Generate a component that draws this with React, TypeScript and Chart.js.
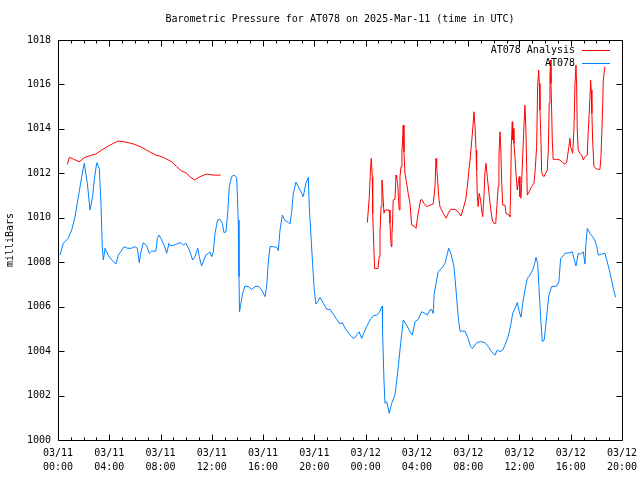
import React, { useEffect, useRef } from "react";
import { Chart, registerables } from "chart.js";

Chart.register(...registerables);

const titleText = "Barometric Pressure for AT078 on 2025-Mar-11 (time in UTC)";
const yAxisTitle = "milliBars";
const xTickDates = ["03/11", "03/11", "03/11", "03/11", "03/11", "03/11", "03/12", "03/12", "03/12", "03/12", "03/12", "03/12"];
const xTickTimes = ["00:00", "04:00", "08:00", "12:00", "16:00", "20:00", "00:00", "04:00", "08:00", "12:00", "16:00", "20:00"];
const legendLabels = ["AT078 Analysis", "AT078"];

// hours since 2025-03-11 00:00 UTC
const blueHours = [
  0.16, 0.41, 0.8, 1.07, 1.33, 1.59, 1.85, 2.05, 2.29, 2.5, 2.7, 2.83, 3.02, 3.22, 3.35, 3.46, 3.54, 3.67, 3.93, 4.2,
  4.52, 4.7, 4.89, 5.15, 5.41, 5.75, 6.0, 6.19, 6.34, 6.45, 6.66, 6.92, 7.12, 7.3, 7.64, 7.75, 7.88, 8.09, 8.3, 8.48,
  8.66, 8.79, 9.05, 9.38, 9.59, 9.78, 9.98, 10.17, 10.3, 10.5, 10.69, 10.9, 11.02, 11.2, 11.34, 11.52, 11.73, 11.86, 11.99, 12.12,
  12.25, 12.45, 12.64, 12.82, 12.95, 13.1, 13.24, 13.36, 13.55, 13.73, 13.94, 14.06, 14.12, 14.16, 14.25, 14.4, 14.59, 14.85, 15.1, 15.37,
  15.62, 15.89, 16.15, 16.28, 16.4, 16.54, 16.8, 17.06, 17.19, 17.32, 17.5, 17.71, 17.97, 18.1, 18.23, 18.36, 18.56, 18.88, 19.13, 19.34,
  19.53, 19.6, 19.71, 19.86, 19.99, 20.12, 20.26, 20.44, 20.7, 20.96, 21.22, 21.47, 21.74, 22.0, 22.2, 22.39, 22.64, 22.91, 23.11, 23.3,
  23.5, 23.69, 23.87, 24.08, 24.34, 24.6, 24.86, 25.06, 25.3, 25.32, 25.43, 25.51, 25.64, 25.84, 26.03, 26.29, 26.55, 26.73, 26.94, 27.2,
  27.46, 27.64, 27.85, 28.1, 28.37, 28.63, 28.81, 29.02, 29.15, 29.27, 29.35, 29.54, 29.66, 29.93, 30.19, 30.32, 30.48, 30.65, 30.89, 31.05,
  31.22, 31.36, 31.75, 32.0, 32.19, 32.35, 32.66, 32.97, 33.31, 33.57, 33.83, 34.09, 34.27, 34.48, 34.69, 34.87, 35.13, 35.32, 35.47, 35.65,
  35.83, 35.99, 36.12, 36.25, 36.43, 36.61, 36.82, 37.03, 37.19, 37.29, 37.42, 37.52, 37.65, 37.78, 37.93, 38.07, 38.17, 38.3, 38.51, 38.9,
  39.08, 39.21, 39.37, 39.55, 39.94, 40.12, 40.25, 40.41, 40.59, 40.77, 40.98, 41.11, 41.19, 41.29, 41.5, 41.71, 41.89, 42.03, 42.15, 42.42,
  42.67, 42.8, 43.01, 43.19, 43.32, 43.5,
];
const blueValues = [
  1008.32, 1008.85, 1009.08, 1009.45, 1010.05, 1010.95, 1011.85, 1012.45, 1011.55, 1010.35, 1010.95, 1011.7, 1012.48, 1012.22, 1010.65, 1008.63, 1008.1, 1008.63, 1008.3, 1008.1,
  1007.92, 1008.32, 1008.47, 1008.7, 1008.63, 1008.63, 1008.7, 1008.63, 1007.98, 1008.4, 1008.88, 1008.73, 1008.4, 1008.5, 1008.5, 1009.08, 1009.22, 1009.0, 1008.73, 1008.4,
  1008.85, 1008.73, 1008.77, 1008.85, 1008.88, 1008.77, 1008.85, 1008.63, 1008.47, 1008.1, 1008.25, 1008.63, 1008.25, 1007.83, 1008.03, 1008.32, 1008.4, 1008.47, 1008.25, 1008.47,
  1009.3, 1009.9, 1009.93, 1009.75, 1009.33, 1009.37, 1010.2, 1011.4, 1011.85, 1011.92, 1011.82, 1009.9, 1007.35, 1005.77, 1006.07, 1006.6, 1006.93, 1006.9, 1006.78, 1006.9,
  1006.93, 1006.75, 1006.45, 1006.9, 1007.95, 1008.7, 1008.7, 1008.67, 1008.52, 1009.45, 1010.12, 1009.87, 1009.8, 1009.72, 1010.27, 1011.1, 1011.6, 1011.25, 1010.95, 1011.55,
  1011.82, 1010.5, 1009.45, 1007.95, 1006.75, 1006.12, 1006.22, 1006.42, 1006.15, 1005.88, 1005.88, 1005.67, 1005.43, 1005.22, 1005.28, 1005.03, 1004.83, 1004.65, 1004.57, 1004.72,
  1004.87, 1004.57, 1004.83, 1005.1, 1005.4, 1005.6, 1005.62, 1005.73, 1006.03, 1004.95, 1002.7, 1001.65, 1001.72, 1001.2, 1001.65, 1002.02, 1003.3, 1004.35, 1005.4, 1005.17,
  1004.87, 1004.72, 1005.32, 1005.43, 1005.77, 1005.7, 1005.62, 1005.85, 1005.88, 1005.7, 1006.6, 1007.2, 1007.58, 1007.72, 1007.95, 1008.25, 1008.63, 1008.4, 1007.8, 1006.75,
  1005.55, 1004.9, 1004.9, 1004.57, 1004.2, 1004.12, 1004.38, 1004.43, 1004.38, 1004.2, 1003.97, 1003.82, 1004.05, 1003.97, 1004.05, 1004.27, 1004.68, 1005.17, 1005.7, 1005.92,
  1006.18, 1005.77, 1005.52, 1006.15, 1006.75, 1007.27, 1007.42, 1007.65, 1007.95, 1008.22, 1007.95, 1006.9, 1005.55, 1004.43, 1004.5, 1005.25, 1005.85, 1006.52, 1006.9, 1006.93,
  1007.12, 1008.17, 1008.25, 1008.4, 1008.43, 1008.47, 1008.17, 1007.83, 1008.4, 1008.37, 1008.47, 1007.92, 1008.85, 1009.52, 1009.3, 1009.15, 1008.97, 1008.7, 1008.32, 1008.37,
  1008.4, 1008.13, 1007.65, 1007.2, 1006.83, 1006.42,
];

const redHours = [
  0.73, 0.88, 1.2, 1.66, 2.1, 2.63, 2.89, 3.41, 3.93, 4.32, 4.71, 5.05, 5.49, 6.0, 6.53, 7.05, 7.64, 8.09, 8.48, 8.87,
  9.26, 9.65, 9.98, 10.3, 10.63, 11.08, 11.6, 12.11, 12.69,
  18.0,
  24.13, 24.28, 24.39, 24.44, 24.52, 24.55, 24.65, 24.7, 24.96, 25.06, 25.12, 25.2, 25.27, 25.33, 25.43, 25.51, 25.84, 25.9, 25.95, 26.0,
  26.05, 26.11, 26.15, 26.29, 26.37, 26.42, 26.5, 26.57, 26.62, 26.68, 26.76, 26.83, 26.91, 26.93, 26.99, 27.07, 27.2, 27.32, 27.46, 27.59,
  27.77, 27.93, 28.1, 28.29, 28.37, 28.55, 28.76, 29.02, 29.27, 29.41, 29.49, 29.54, 29.62, 29.7, 29.8, 30.05, 30.27, 30.45, 30.63, 30.97,
  31.22, 31.44, 31.62, 31.83, 31.93, 32.06, 32.14, 32.35, 32.45, 32.53, 32.61, 32.66, 32.71, 32.78, 32.86, 32.97, 33.05, 33.13, 33.23, 33.31,
  33.39, 33.49, 33.64, 33.75, 33.88, 34.0, 34.15, 34.34, 34.4, 34.48, 34.53, 34.61, 34.69, 34.87, 34.95, 35.2, 35.26, 35.31, 35.36, 35.44,
  35.47, 35.52, 35.57, 35.65, 35.73, 35.83, 35.91, 35.98, 36.04, 36.12, 36.17, 36.25, 36.35, 36.43, 36.5, 36.56, 36.61, 36.76, 36.95, 37.13,
  37.21, 37.34, 37.42, 37.5, 37.55, 37.6, 37.68, 37.73, 37.81, 37.91, 38.04, 38.17, 38.25, 38.32, 38.38, 38.43, 38.46, 38.51, 38.56, 38.63,
  38.9, 39.16, 39.37, 39.55, 39.68, 39.76, 39.86, 39.94, 39.99, 40.07, 40.15, 40.25, 40.33, 40.41, 40.46, 40.51, 40.58, 40.72, 40.85, 40.98,
  41.05, 41.13, 41.29, 41.36, 41.5, 41.55, 41.6, 41.65, 41.71, 41.81, 41.97, 42.15, 42.28, 42.36, 42.43, 42.49, 42.54, 42.67,
];
const redValues = [
  1012.4, 1012.72, 1012.64, 1012.52, 1012.72, 1012.82, 1012.85, 1013.05, 1013.23, 1013.35, 1013.45, 1013.43, 1013.38, 1013.3, 1013.17, 1013.0, 1012.82, 1012.75, 1012.64, 1012.52,
  1012.3, 1012.1, 1012.03, 1011.85, 1011.7, 1011.85, 1011.97, 1011.92, 1011.92,
  null,
  1009.78, 1010.88, 1012.3, 1012.67, 1011.85, 1010.2, 1008.55, 1007.72, 1007.72, 1008.25, 1009.3, 1010.5, 1011.7, 1011.25, 1010.2, 1010.35, 1010.35, 1009.75, 1009.15, 1008.7,
  1009.22, 1009.9, 1010.8, 1010.83, 1011.92, 1011.77, 1011.55, 1010.8, 1010.35, 1011.85, 1012.3, 1012.97, 1013.8, 1014.17, 1012.97, 1012.0, 1011.55, 1011.1, 1010.65, 1009.68,
  1009.63, 1009.52, 1010.2, 1010.8, 1010.83, 1010.65, 1010.5, 1010.57, 1010.62, 1011.4, 1012.67, 1012.3, 1011.7, 1010.95, 1010.5, 1010.2, 1009.98, 1010.2, 1010.38, 1010.38,
  1010.27, 1010.08, 1010.42, 1010.88, 1011.4, 1012.15, 1012.55, 1013.95, 1014.77, 1014.17, 1013.05, 1012.15, 1011.02, 1010.5, 1011.1, 1010.8, 1010.35, 1010.05, 1010.95, 1012.07,
  1012.45, 1011.85, 1011.02, 1010.42, 1009.9, 1009.75, 1009.75, 1011.4, 1012.82, 1013.87, 1013.35, 1011.7, 1010.57, 1010.57, 1010.2, 1010.12, 1010.05, 1011.1, 1013.2, 1014.32,
  1013.5, 1014.02, 1013.35, 1012.75, 1012.0, 1011.25, 1011.55, 1011.85, 1010.95, 1010.88, 1011.55, 1012.75, 1014.1, 1015.07, 1014.02, 1012.45, 1011.02, 1011.18, 1011.4, 1011.55,
  1012.0, 1013.2, 1015.97, 1016.65, 1016.05, 1014.85, 1013.5, 1012.07, 1011.92, 1011.85, 1012.0, 1012.15, 1013.05, 1015.15, 1016.35, 1017.1, 1016.05, 1014.85, 1013.5, 1012.63,
  1012.63, 1012.6, 1012.48, 1012.42, 1012.48, 1012.82, 1013.2, 1013.58, 1013.2, 1013.05, 1012.9, 1013.95, 1015.97, 1016.87, 1015.97, 1013.95, 1013.05, 1012.9, 1012.82, 1012.6,
  1012.68, 1012.75, 1012.82, 1013.8, 1015.38, 1016.2, 1015.75, 1014.7, 1013.5, 1012.3, 1012.22, 1012.18, 1012.18, 1012.75, 1013.95, 1015.0, 1016.2, 1016.8,
];

const FONT = "'DejaVu Sans Mono', 'Liberation Mono', monospace";
const RED = "#ff0000";
const BLUE = "#0080ff";

const framePlugin = {
  id: "gnuFrame",
  afterDraw(chart: any) {
    const { ctx, chartArea, scales } = chart;
    const xs = scales.x;
    const ys = scales.y;
    const L = Math.round(chartArea.left) + 0.5;
    const R = Math.round(chartArea.right) + 0.5;
    const T = Math.round(chartArea.top) + 0.5;
    const B = Math.round(chartArea.bottom) + 0.5;
    ctx.save();
    // title centred over the plot area
    ctx.font = "10px " + FONT;
    ctx.fillStyle = "#000";
    ctx.textAlign = "center";
    ctx.textBaseline = "middle";
    ctx.fillText(titleText, (chartArea.left + chartArea.right) / 2, 19);
    ctx.strokeStyle = "#000";
    ctx.lineWidth = 1;
    ctx.beginPath();
    ctx.rect(L, T, R - L, B - T);
    ctx.stroke();
    ctx.beginPath();
    for (let h = xs.min; h <= xs.max; h += 1) {
      const px = Math.round(xs.getPixelForValue(h)) + 0.5;
      const len = h % 4 === 0 ? 6 : 3;
      ctx.moveTo(px, B);
      ctx.lineTo(px, B - len);
      ctx.moveTo(px, T);
      ctx.lineTo(px, T + len);
    }
    for (let v = ys.min; v <= ys.max; v += 2) {
      const py = Math.round(ys.getPixelForValue(v)) + 0.5;
      ctx.moveTo(L, py);
      ctx.lineTo(L + 6, py);
      ctx.moveTo(R, py);
      ctx.lineTo(R - 6, py);
    }
    ctx.stroke();
    // legend (gnuplot style: text then line sample)
    ctx.textAlign = "right";
    chart.data.datasets.forEach((ds: any, i: number) => {
      const y = 50 + i * 13;
      ctx.fillText(legendLabels[i], 575, y);
      ctx.strokeStyle = ds.borderColor;
      ctx.beginPath();
      ctx.moveTo(582, y + 0.5);
      ctx.lineTo(610, y + 0.5);
      ctx.stroke();
    });
    ctx.restore();
  },
};

export default function App() {
  const ref = useRef<HTMLCanvasElement>(null);
  useEffect(() => {
    if (!ref.current) return;
    const chart = new Chart(ref.current, {
      type: "line",
      data: {
        datasets: [
          {
            label: legendLabels[0],
            data: redHours.map((h, i) => ({ x: h, y: redValues[i] })),
            borderColor: RED,
            backgroundColor: RED,
            borderWidth: 1,
            pointRadius: 0,
            tension: 0,
            spanGaps: false,
          },
          {
            label: legendLabels[1],
            data: blueHours.map((h, i) => ({ x: h, y: blueValues[i] })),
            borderColor: BLUE,
            backgroundColor: BLUE,
            borderWidth: 1,
            pointRadius: 0,
            tension: 0,
          },
        ],
      },
      options: {
        responsive: false,
        animation: false,
        layout: { padding: { left: 0, right: 18, top: 40, bottom: 0 } },
        plugins: {
          legend: { display: false },
          tooltip: { enabled: false },
          title: { display: false },
        },
        scales: {
          x: {
            type: "linear",
            min: 0,
            max: 44,
            grid: { display: false, drawTicks: false },
            border: { display: false },
            ticks: {
              stepSize: 4,
              autoSkip: false,
              maxRotation: 0,
              padding: 6,
              color: "#000",
              font: { family: FONT, size: 10, lineHeight: 1.4 },
              callback: (v: any) => {
                const i = Math.round(Number(v) / 4);
                return [xTickDates[i], xTickTimes[i]];
              },
            },
            afterFit: (s: any) => {
              s.height = 40;
              s.paddingLeft = 0;
              s.paddingRight = 0;
            },
          },
          y: {
            min: 1000,
            max: 1018,
            grid: { display: false, drawTicks: false },
            border: { display: false },
            ticks: {
              stepSize: 2,
              padding: 7,
              color: "#000",
              font: { family: FONT, size: 10 },
              callback: (v: any) => String(v),
            },
            title: {
              display: true,
              text: yAxisTitle,
              color: "#000",
              font: { family: FONT, size: 10 },
              padding: { top: 4, bottom: 4 },
            },
            afterFit: (s: any) => {
              s.width = 58;
              s.paddingTop = 0;
              s.paddingBottom = 0;
            },
          },
        },
      },
      plugins: [framePlugin],
    });
    return () => chart.destroy();
  }, []);
  return (
    <div style={{ position: "absolute", left: 0, top: 0, width: 640, height: 480, background: "#fff" }}>
      <canvas ref={ref} width={640} height={480} />
    </div>
  );
}
